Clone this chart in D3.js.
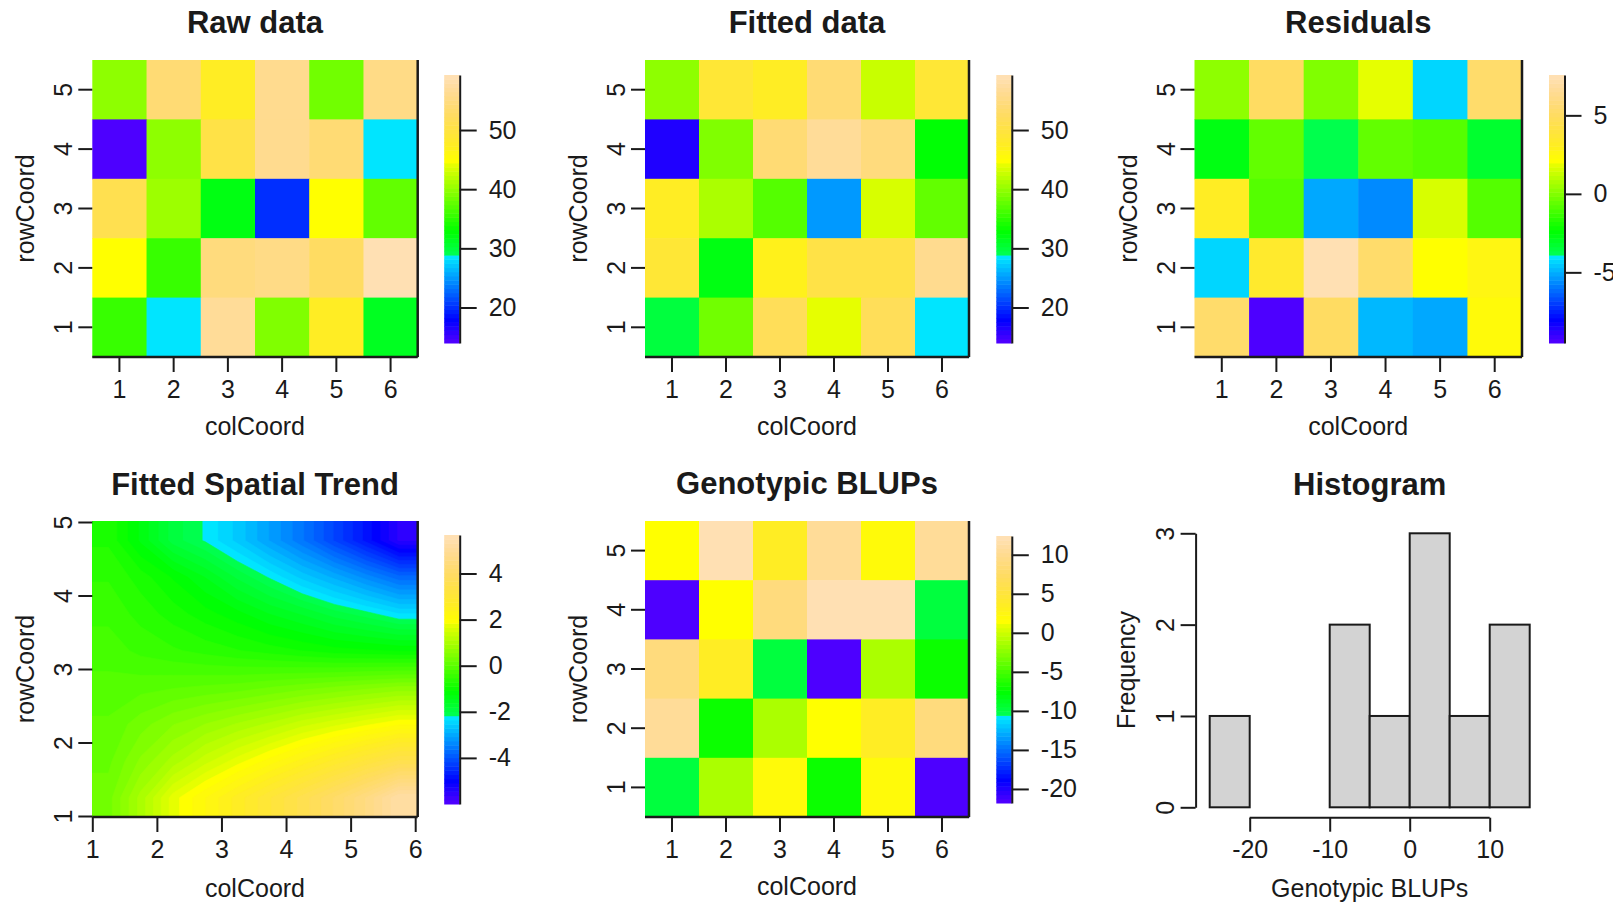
<!DOCTYPE html>
<html>
<head>
<meta charset="utf-8">
<script src="https://cdn.jsdelivr.net/npm/d3@7"></script>
<style>
  body { margin: 0; background: #fff; }
  svg { display: block; font-family: "Liberation Sans", Arial, sans-serif; }
</style>
</head>
<body>
<svg id="chart" width="1613" height="903"></svg>
<script>
// grid coordinates
const colCoords = [1, 2, 3, 4, 5, 6];
const rowCoords = [5, 4, 3, 2, 1]; // top row first

// plot values, one row per rowCoord (5 at the top)
const rawData = [
  [40.1, 54.2, 47.8, 55.9, 38.3, 55.1],
  [14.0, 39.5, 50.1, 55.9, 54.2, 28.5],
  [51.5, 40.5, 31.7, 19.8, 44.6, 38.0],
  [44.8, 35.8, 54.6, 55.6, 52.6, 59.3],
  [35.4, 28.6, 56.9, 38.8, 47.6, 31.2]
];
const fittedData = [
  [39.9, 48.8, 47.6, 54.0, 42.4, 49.0],
  [16.6, 38.8, 53.9, 56.5, 54.7, 33.0],
  [47.8, 41.4, 36.8, 25.2, 43.3, 37.9],
  [49.0, 32.4, 47.1, 50.2, 50.5, 56.4],
  [29.8, 38.3, 52.1, 43.9, 51.9, 28.4]
];
const residualData = [
  [0.2, 5.0, 0.0, 1.8, -4.3, 5.4],
  [-2.7, -0.5, -3.7, -0.6, -0.7, -3.3],
  [3.2, -0.8, -5.1, -5.7, 1.65, -0.7],
  [-4.3, 3.4, 7.5, 5.2, 2.1, 2.6],
  [5.3, -9.5, 5.0, -4.95, -5.2, 2.5]
];
const blupData = [
  [1.6, 12.2, 3.7, 10.6, 2.0, 10.6],
  [-21.8, 1.6, 8.9, 12.2, 12.2, -9.6],
  [8.9, 3.7, -9.6, -21.8, -1.2, -6.9],
  [10.6, -6.9, -1.2, 1.6, 3.7, 8.9],
  [-9.6, -1.2, 2.0, -6.9, 2.0, -21.8]
];

// fitted spatial trend, read on a half-unit grid (rows top first)
const trendCols = [1.25, 1.75, 2.25, 2.75, 3.25, 3.75, 4.25, 4.75, 5.25, 5.75];
const trendRows = [4.75, 4.25, 3.75, 3.25, 2.75, 2.25, 1.75, 1.25];
const trendData = [
  [-0.75, -1.3, -1.9, -2.2, -2.6, -3.1, -3.6, -4.2, -4.8, -5.5],
  [-0.55, -0.8, -1.1, -1.45, -1.85, -2.2, -2.6, -2.95, -3.35, -3.75],
  [-0.4, -0.6, -0.8, -1.0, -1.2, -1.45, -1.65, -1.9, -2.1, -2.35],
  [-0.25, -0.4, -0.5, -0.6, -0.7, -0.8, -0.9, -1.0, -1.05, -1.1],
  [-0.1, -0.05, 0.0, 0.05, 0.1, 0.2, 0.3, 0.4, 0.5, 0.6],
  [0.05, 0.3, 0.55, 0.75, 0.95, 1.15, 1.4, 1.6, 1.8, 2.0],
  [0.15, 0.6, 1.0, 1.4, 1.75, 2.1, 2.45, 2.8, 3.15, 3.5],
  [0.3, 1.0, 1.75, 2.2, 2.65, 3.1, 3.55, 4.05, 4.6, 5.3]
];

// colour bar limits and ticks
const rawZlim = [14.0, 59.3];
const residZlim = [-9.5, 7.57];
const trendZlim = [-6.0, 5.67];
const blupZlim = [-21.8, 12.4];
const rawTicks = [20, 30, 40, 50];
const residTicks = [-5, 0, 5];
const trendTicks = [-4, -2, 0, 2, 4];
const blupTicks = [-20, -15, -10, -5, 0, 5, 10];

// histogram of genotypic BLUPs
const histBreaks = [-25, -20, -15, -10, -5, 0, 5, 10, 15];
const histCounts = [1, 0, 0, 2, 1, 3, 1, 2];
const histXTicks = [-20, -10, 0, 10];
const histYTicks = [0, 1, 2, 3];

const INK = "#1a1a1a";
const FONT = '"Liberation Sans", Arial, sans-serif';
const FS = 25;
const svg = d3.select("#chart");

// R's topo.colors(n)
function hsv(h, s, v) {
  const f = n => { const k = (n + h * 6) % 6; return v - v * s * Math.max(0, Math.min(k, 4 - k, 1)); };
  return d3.rgb(f(5) * 255, f(3) * 255, f(1) * 255).formatHex();
}
function topoColors(n) {
  const j = Math.floor(n / 3), k = Math.floor(n / 3), i = n - j - k;
  const seq = (a, b, len) => d3.range(len).map(q => a + (b - a) * q / (len - 1));
  const sat = seq(1, 0.3, k);
  return [
    ...seq(43 / 60, 31 / 60, j).map(h => hsv(h, 1, 1)),
    ...seq(23 / 60, 11 / 60, i).map(h => hsv(h, 1, 1)),
    ...seq(10 / 60, 6 / 60, k).map((h, q) => hsv(h, sat[q], 1))
  ];
}
const NLEV = 64;
const palette = topoColors(NLEV);
const colorFor = (v, zlim) => {
  const idx = Math.floor((v - zlim[0]) / (zlim[1] - zlim[0]) * NLEV);
  return palette[Math.max(0, Math.min(NLEV - 1, idx))];
};

const styleAxis = sel => {
  sel.attr("font-size", FS).attr("font-family", FONT).attr("color", INK);
  sel.selectAll(".tick line").attr("stroke-width", 2);
  sel.select(".domain").attr("stroke-width", 2);
};
// R draws y tick labels parallel to the axis
const rotateYLabels = (axisG, off) => axisG.selectAll(".tick text")
  .attr("transform", "rotate(-90)").attr("x", 0).attr("y", -off)
  .attr("dy", 0).attr("text-anchor", "middle");

function addTitle(text, cx, y) {
  svg.append("text").attr("x", cx).attr("y", y)
    .attr("text-anchor", "middle").attr("font-size", 31).attr("font-weight", "bold")
    .attr("fill", INK).text(text);
}
function addXLabel(text, cx, y) {
  svg.append("text").attr("x", cx).attr("y", y).attr("text-anchor", "middle")
    .attr("font-size", FS).attr("fill", INK).text(text);
}
function addYLabel(text, x, cy) {
  svg.append("text").attr("transform", `translate(${x},${cy}) rotate(-90)`)
    .attr("text-anchor", "middle").attr("font-size", FS).attr("fill", INK).text(text);
}
function addBox(p) {
  const g = svg.append("g").attr("stroke", INK).attr("stroke-width", 2.5);
  g.append("line").attr("x1", p.x0).attr("x2", p.x1).attr("y1", p.y1).attr("y2", p.y1);
  g.append("line").attr("x1", p.x1).attr("x2", p.x1).attr("y1", p.y0).attr("y2", p.y1);
}

function drawColorbar(zlim, ticks, x, yTop, yBot) {
  const s = d3.scaleLinear().domain(zlim).range([yBot, yTop]);
  const step = (zlim[1] - zlim[0]) / NLEV;
  svg.append("g").selectAll("rect").data(palette).join("rect")
    .attr("x", x).attr("width", 15.5)
    .attr("y", (d, k) => s(zlim[0] + (k + 1) * step))
    .attr("height", (d, k) => s(zlim[0] + k * step) - s(zlim[0] + (k + 1) * step) + 0.5)
    .attr("fill", d => d);
  const ax = svg.append("g").attr("transform", `translate(${x + 15.5},0)`)
    .call(d3.axisRight(s).tickValues(ticks).tickSize(17).tickSizeOuter(0).tickPadding(12)
      .tickFormat(d => String(d)));
  styleAxis(ax);
}

function drawHeat(p, data, zlim, ticks, title) {
  const x = d3.scaleBand().domain(colCoords).range([p.x0, p.x1]);
  const y = d3.scaleBand().domain(rowCoords).range([p.y0, p.y1]);
  const cells = data.flatMap((row, i) => row.map((v, j) => ({ r: rowCoords[i], c: colCoords[j], v })));
  svg.append("g").selectAll("rect").data(cells).join("rect")
    .attr("x", d => x(d.c)).attr("y", d => y(d.r))
    .attr("width", x.bandwidth() + 0.6).attr("height", y.bandwidth() + 0.6)
    .attr("fill", d => colorFor(d.v, zlim));
  addBox(p);
  const xa = svg.append("g").attr("transform", `translate(0,${p.y1})`)
    .call(d3.axisBottom(x).tickSize(15).tickPadding(8));
  xa.select(".domain").remove();
  styleAxis(xa);
  const ya = svg.append("g").attr("transform", `translate(${p.x0},0)`)
    .call(d3.axisLeft(y).tickSize(14));
  ya.select(".domain").remove();
  styleAxis(ya);
  rotateYLabels(ya, 20);
  addTitle(title, (p.x0 + p.x1) / 2, p.y0 - 27);
  addXLabel("colCoord", (p.x0 + p.x1) / 2, p.y1 + 78);
  addYLabel("rowCoord", p.x0 - 58, (p.y0 + p.y1) / 2);
  drawColorbar(zlim, ticks, p.cb, p.y0 + 15, p.y1 - 14);
}

function drawTrend(p) {
  const x = d3.scaleLinear().domain([1, 6]).range([p.x0, p.x1 - 2.5]);
  const y = d3.scaleLinear().domain([1, 5]).range([p.y1 - 1, p.y0 + 1]);
  // edge values repeated once so the contour bands reach the frame
  const padded = [trendData[0], ...trendData, trendData[trendData.length - 1]]
    .map(r => [r[0], ...r, r[r.length - 1]]);
  const nc = padded[0].length, nr = padded.length;
  const gx = d3.scaleLinear().domain([1.5, nc - 1.5]).range([trendCols[0], trendCols[trendCols.length - 1]]);
  const gy = d3.scaleLinear().domain([1.5, nr - 1.5]).range([trendRows[0], trendRows[trendRows.length - 1]]);
  const step = (trendZlim[1] - trendZlim[0]) / NLEV;
  const thresholds = d3.range(NLEV).map(k => trendZlim[0] + k * step);
  const bands = d3.contours().size([nc, nr]).thresholds(thresholds)(padded.flat());
  const path = d3.geoPath(d3.geoTransform({
    point(u, v) { this.stream.point(x(gx(u)), y(gy(v))); }
  }));
  svg.append("clipPath").attr("id", "trendClip").append("rect")
    .attr("x", p.x0).attr("y", p.y0).attr("width", p.x1 - p.x0).attr("height", p.y1 - p.y0);
  svg.append("g").attr("clip-path", "url(#trendClip)")
    .selectAll("path").data(bands).join("path")
    .attr("d", path).attr("fill", (d, k) => palette[k])
    .attr("stroke", (d, k) => palette[k]).attr("stroke-width", 0.6);
  addBox(p);
  const xa = svg.append("g").attr("transform", `translate(0,${p.y1})`)
    .call(d3.axisBottom(x).tickValues(colCoords).tickSize(15).tickPadding(8).tickFormat(d => String(d)));
  xa.select(".domain").remove();
  styleAxis(xa);
  const ya = svg.append("g").attr("transform", `translate(${p.x0},0)`)
    .call(d3.axisLeft(y).tickValues(rowCoords).tickSize(14).tickFormat(d => String(d)));
  ya.select(".domain").remove();
  styleAxis(ya);
  rotateYLabels(ya, 20);
  addTitle("Fitted Spatial Trend", (p.x0 + p.x1) / 2, p.y0 - 26);
  addXLabel("colCoord", (p.x0 + p.x1) / 2, p.y1 + 80);
  addYLabel("rowCoord", p.x0 - 58, (p.y0 + p.y1) / 2);
  drawColorbar(trendZlim, trendTicks, p.cb, p.y0 + 14, p.y1 - 13);
}

function drawHist() {
  const x = d3.scaleLinear().domain([histBreaks[0], histBreaks[histBreaks.length - 1]]).range([1209.7, 1529.7]);
  const y = d3.scaleLinear().domain([0, 3]).range([807.3, 533.3]);
  const bins = histCounts.map((n, i) => ({ lo: histBreaks[i], hi: histBreaks[i + 1], n }));
  svg.append("g").selectAll("rect").data(bins).join("rect")
    .attr("x", d => x(d.lo)).attr("width", d => x(d.hi) - x(d.lo))
    .attr("y", d => y(d.n)).attr("height", d => y(0) - y(d.n))
    .attr("fill", "#d3d3d3").attr("stroke", INK).attr("stroke-width", 2);
  const xa = svg.append("g").attr("transform", "translate(0,817.7)")
    .call(d3.axisBottom(x).tickValues(histXTicks).tickSize(14).tickPadding(9).tickFormat(d => String(d)));
  xa.select(".domain").remove();
  styleAxis(xa);
  xa.append("line").attr("x1", x(histXTicks[0])).attr("x2", x(histXTicks[histXTicks.length - 1]))
    .attr("stroke", INK).attr("stroke-width", 2);
  const ya = svg.append("g").attr("transform", "translate(1195.6,0)")
    .call(d3.axisLeft(y).tickValues(histYTicks).tickSize(15).tickSizeOuter(0).tickFormat(d => String(d)));
  styleAxis(ya);
  rotateYLabels(ya, 22);
  addTitle("Histogram", x(-5), 495);
  addXLabel("Genotypic BLUPs", x(-5), 897);
  addYLabel("Frequency", 1134.5, 670);
}

drawHeat({ x0: 92.3, x1: 417.7, y0: 60, y1: 357, cb: 444.2 }, rawData, rawZlim, rawTicks, "Raw data");
drawHeat({ x0: 645, x1: 969, y0: 60, y1: 357, cb: 996.3 }, fittedData, rawZlim, rawTicks, "Fitted data");
drawHeat({ x0: 1194.5, x1: 1522, y0: 60, y1: 357, cb: 1549 }, residualData, residZlim, residTicks, "Residuals");
drawTrend({ x0: 92.3, x1: 417.7, y0: 521, y1: 817, cb: 444.2 });
drawHeat({ x0: 645, x1: 969, y0: 521, y1: 817, cb: 996.3 }, blupData, blupZlim, blupTicks, "Genotypic BLUPs");
drawHist();
</script>
</body>
</html>
